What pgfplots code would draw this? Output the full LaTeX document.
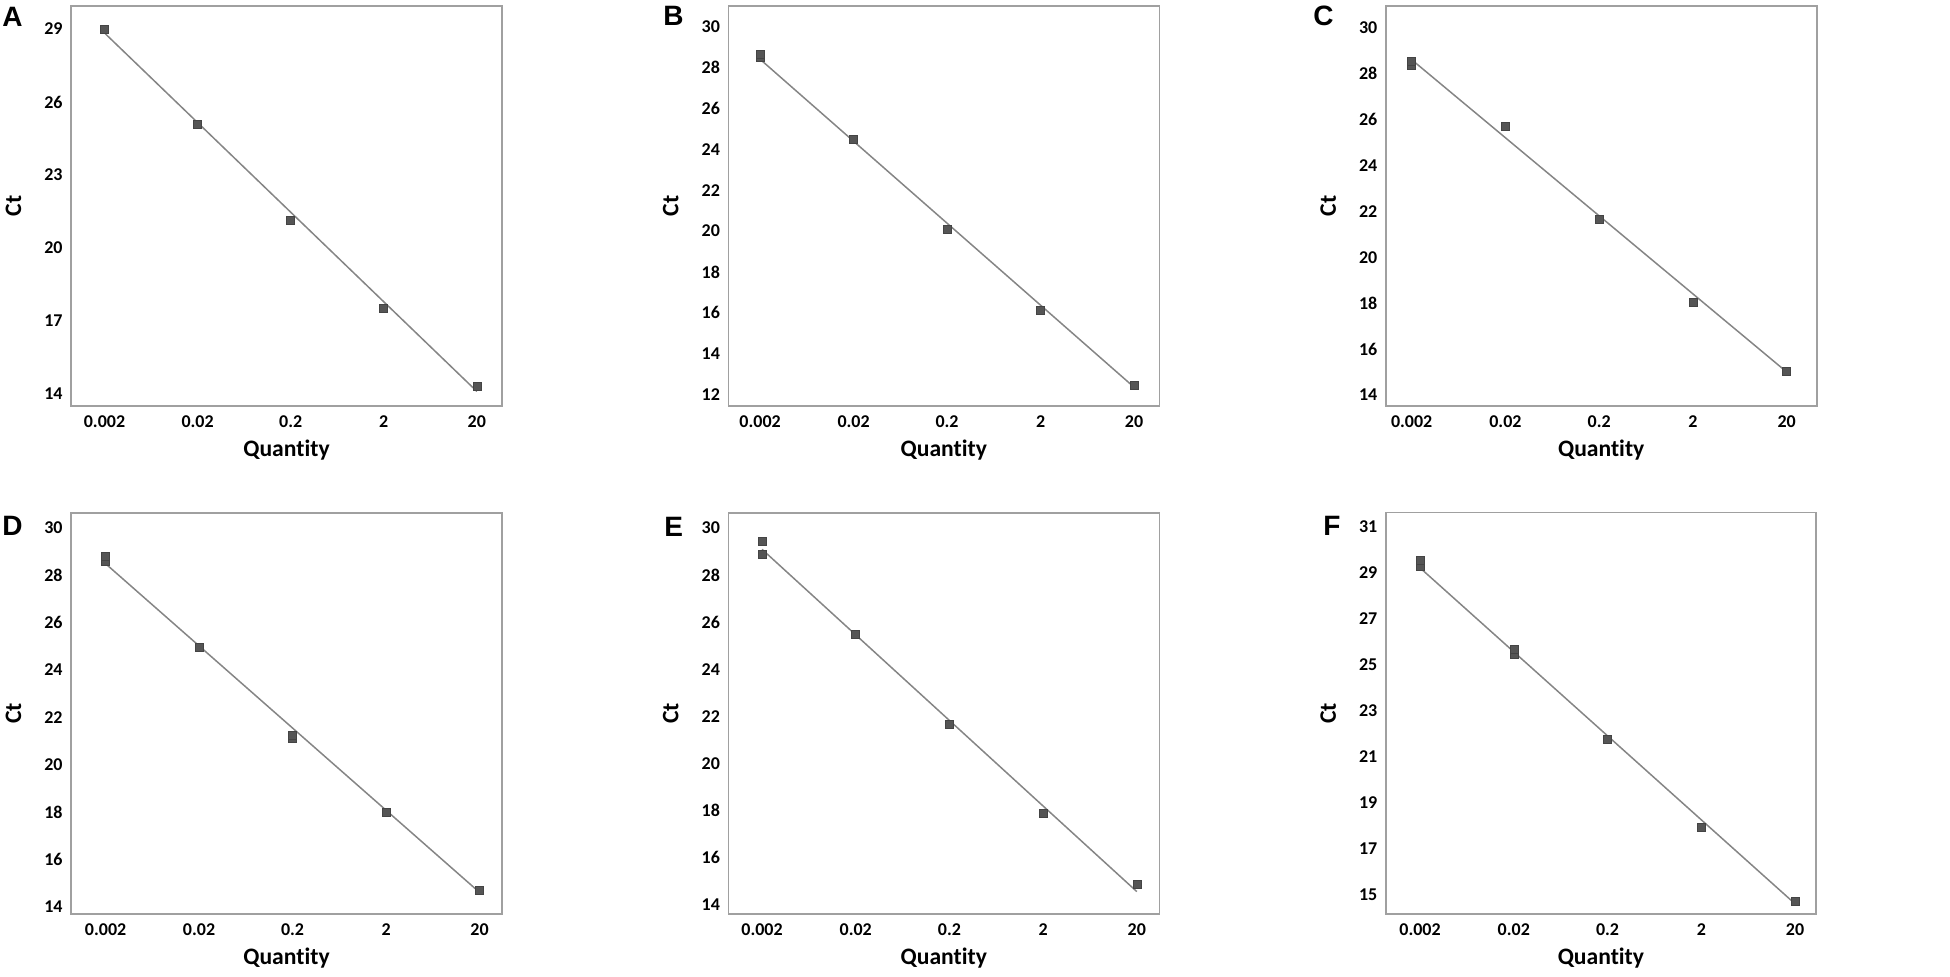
\documentclass[border=0pt]{standalone}
\usepackage{pgfplots}
\pgfplotsset{compat=1.18}
\usepackage{fontspec}
\setmainfont[Ligatures=NoCommon]{Carlito}
\newfontfamily\letterfont{Liberation Sans}
\definecolor{framegray}{HTML}{A0A0A0}
\definecolor{linegray}{HTML}{858585}
\definecolor{markgray}{HTML}{555555}
\pgfplotsset{
  ctpanel/.style={
    scale only axis,
    width=215.5pt, height=200pt,
    anchor=south west,
    axis line style={framegray, line width=0.8pt},
    major tick length=0pt,
    xmin=-0.36, xmax=4.27,
    xtick={0,1,2,3,4},
    xticklabels={0.002,0.02,0.2,2,20},
    font=\fontsize{9}{10}\selectfont\bfseries,
    /pgf/number format/assume math mode=true,
    xticklabel style={anchor=base, yshift=-11pt, font=\fontsize{9}{10}\selectfont\bfseries},
    yticklabel style={anchor=east, xshift=-4pt, inner sep=0pt, font=\fontsize{9}{10}\selectfont\bfseries},
    xlabel={Quantity}, ylabel={Ct},
    xlabel style={at={(axis description cs:0.5,-0.1265)}, anchor=base, inner sep=0pt, font=\fontsize{11.8}{13}\selectfont\bfseries},
    ylabel style={at={(axis description cs:-0.1334,0.5)}, anchor=center, inner sep=0pt, font=\fontsize{11.8}{13}\selectfont\bfseries},
    clip=false,
  },
  fitline/.style={linegray, line width=0.75pt, no marks},
  pts/.style={only marks, mark=square*, mark size=2pt, mark options={fill=markgray, draw=markgray!80!black, line width=0.3pt}},
}
\begin{document}
\begin{tikzpicture}
\path[use as bounding box] (0,0) rectangle (975pt,488.5pt);
% Panel A
\begin{axis}[ctpanel, at={(35.5pt,285.5pt)}, ymin=13.5, ymax=29.95, ytick={14,17,20,23,26,29}]
\addplot[fitline] coordinates {(0,28.84) (4,14.1)};
\addplot[pts] coordinates {(0,28.98) (1,25.1) (2,21.14) (3,17.52) (4,14.31)};
\end{axis}
% Panel B
\begin{axis}[ctpanel, at={(364.15pt,285.5pt)}, ymin=11.43, ymax=31.03, ytick={12,14,...,30}, xmin=-0.34, xmax=4.27]
\addplot[fitline] coordinates {(0,28.42) (4,12.35)};
\addplot[pts] coordinates {(0,28.52) (0,28.68) (1,24.49) (2,20.07) (3,16.1) (4,12.43)};
\end{axis}
% Panel C
\begin{axis}[ctpanel, at={(692.85pt,285.5pt)}, ymin=13.52, ymax=30.94, ytick={14,16,...,30}, xmin=-0.277, xmax=4.32]
\addplot[fitline] coordinates {(0,28.6) (4,15.0)};
\addplot[pts] coordinates {(0,28.36) (0,28.54) (1,25.7) (2,21.67) (3,18.05) (4,15.03)};
\end{axis}
% Panel D
\begin{axis}[ctpanel, at={(35.5pt,31.5pt)}, height=200.6pt, ymin=13.69, ymax=30.63, ytick={14,16,...,30}, xmin=-0.37, xmax=4.24]
\addplot[fitline] coordinates {(0,28.48) (4,14.6)};
\addplot[pts] coordinates {(0,28.6) (0,28.8) (1,24.93) (2,21.1) (2,21.25) (3,17.98) (4,14.7)};
\end{axis}
% Panel E
\begin{axis}[ctpanel, at={(364.15pt,31.5pt)}, height=200.6pt, ymin=13.62, ymax=30.64, ytick={14,16,...,30}, xmin=-0.36, xmax=4.24]
\addplot[fitline] coordinates {(0,29.09) (4,14.57)};
\addplot[pts] coordinates {(0,28.89) (0,29.41) (1,25.5) (2,21.68) (3,17.89) (4,14.86)};
\end{axis}
% Panel F
\begin{axis}[ctpanel, at={(692.85pt,31.5pt)}, height=200.8pt, ymin=14.16, ymax=31.61, ytick={15,17,...,31}, xmin=-0.366, xmax=4.224, width=215.2pt]
\addplot[fitline] coordinates {(0,29.2) (4,14.6)};
\addplot[pts] coordinates {(0,29.26) (0,29.51) (1,25.43) (1,25.64) (2,21.76) (3,17.92) (4,14.71)};
\end{axis}
% Panel letters
\node[anchor=base west, inner sep=0pt, font=\fontsize{14}{16}\selectfont\letterfont\bfseries] at (1pt,475.2pt) {A};
\node[anchor=base west, inner sep=0pt, font=\fontsize{14}{16}\selectfont\letterfont\bfseries] at (331.5pt,475.7pt) {B};
\node[anchor=base west, inner sep=0pt, font=\fontsize{14}{16}\selectfont\letterfont\bfseries] at (656.5pt,475.7pt) {C};
\node[anchor=base west, inner sep=0pt, font=\fontsize{14}{16}\selectfont\letterfont\bfseries] at (1pt,220.5pt) {D};
\node[anchor=base west, inner sep=0pt, font=\fontsize{14}{16}\selectfont\letterfont\bfseries] at (332pt,220.2pt) {E};
\node[anchor=base west, inner sep=0pt, font=\fontsize{14}{16}\selectfont\letterfont\bfseries] at (661.5pt,220.5pt) {F};
\end{tikzpicture}
\end{document}
